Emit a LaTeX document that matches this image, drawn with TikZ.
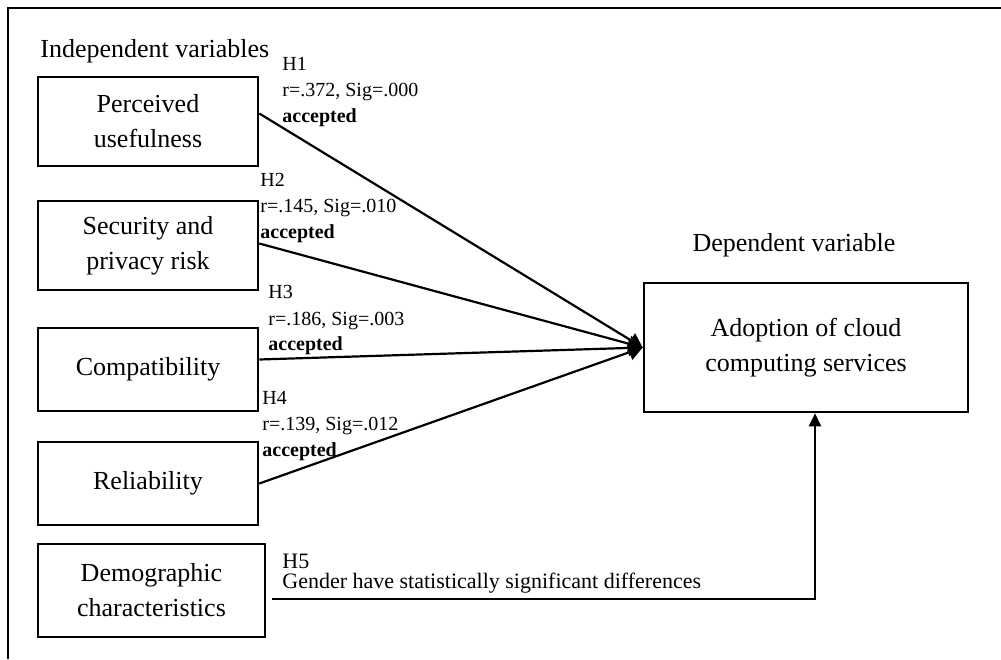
\documentclass[tikz,border=0pt]{standalone}
\usepackage{fontspec}
\setmainfont{Liberation Serif}
\usepackage{tikz}
\usetikzlibrary{arrows.meta,positioning}

\begin{document}
\begin{tikzpicture}[x=0.5pt, y=-0.5pt,
  varbox/.style={rectangle, draw, line width=1.3pt, minimum width=110pt, align=center, inner sep=0pt, font=\fontsize{13}{17.5}\selectfont},
  hyplabel/.style={anchor=west, align=left, inner sep=0pt, font=\fontsize{10}{13}\selectfont},
  headlabel/.style={inner sep=0pt, font=\fontsize{13}{16}\selectfont},
  hypline/.style={line width=1.1pt, -{Triangle[length=7pt, width=8pt]}}]

\useasboundingbox (0,0) rectangle (1001,659);

% Frame (cut off at right and bottom)
\draw[line width=1pt] (1001,8) -- (8,8) -- (8,659);

% Headings
\node[headlabel, anchor=west] (indep) at (40,51) {Independent variables};
\node[headlabel] (dep) at (794,245) {Dependent variable};

% Independent variables
\node[varbox, minimum height=44.5pt] (useful) at (148,121.5) {Perceived\\usefulness};
\node[varbox, minimum height=44.5pt] (secure) at (148,245.5) {Security and\\privacy risk};
\node[varbox, minimum height=41.5pt] (compat) at (148,369.5) {Compatibility};
\node[varbox, minimum height=41.5pt] (reliab) at (148,483.5) {Reliability};
\node[varbox, minimum width=113.5pt, minimum height=46.5pt] (demo) at (151.5,590.5) {Demographic\\characteristics};

% Dependent variable
\node[varbox, minimum width=162pt, minimum height=64.5pt] (adopt) at (806,347.5) {Adoption of cloud\\computing services};

% Hypothesis labels
\node[hyplabel] (h1) at (282,92.5) {H1\\r=.372, Sig=.000\\\textbf{accepted}};
\node[hyplabel] (h2) at (260,208.5) {H2\\r=.145, Sig=.010\\\textbf{accepted}};
\node[hyplabel] (h3) at (268,320.5) {H3\\r=.186, Sig=.003\\\textbf{accepted}};
\node[hyplabel] (h4) at (262,426) {H4\\r=.139, Sig=.012\\\textbf{accepted}};
\node[hyplabel, font=\fontsize{11}{10}\selectfont] (h5) at (282,574) {H5\\Gender have statistically significant differences};

% Paths
\draw[hypline] ([yshift=4pt]useful.east) -- (adopt.west);
\draw[hypline] ([yshift=1pt]secure.east) -- (adopt.west);
\draw[hypline] ([yshift=5pt]compat.east) -- (adopt.west);
\draw[hypline] (reliab.east) -- (adopt.west);

\coordinate (turn) at (815,599);
\draw[line width=1.1pt, shorten <=3pt, -{Triangle[length=6.5pt, width=6pt]}] (demo.east |- turn) -- (turn) -- (adopt.south -| turn);

\end{tikzpicture}
\end{document}
